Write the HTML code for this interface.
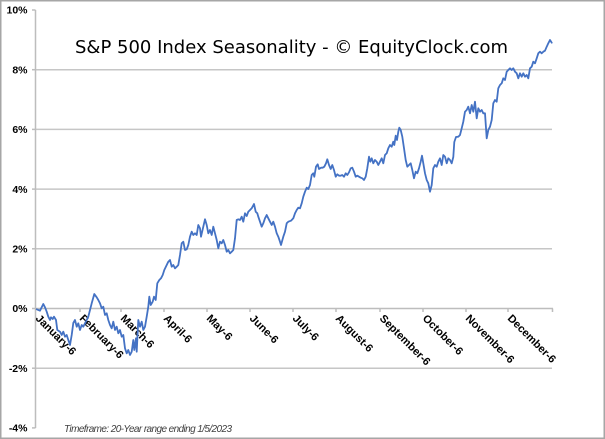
<!DOCTYPE html>
<html>
<head>
<meta charset="utf-8">
<style>
html,body{margin:0;padding:0;background:#fff;}
svg{display:block;}
</style>
</head>
<body>
<svg width="605" height="439" viewBox="0 0 605 439" xmlns="http://www.w3.org/2000/svg">
<rect x="0" y="0" width="605" height="439" fill="#ffffff"/>
<rect x="0.75" y="0.75" width="603.5" height="437.5" fill="none" stroke="#a6a6a6" stroke-width="1.5"/>

<!-- gridlines -->
<g stroke="#c6c6c6" stroke-width="1.5">
<line x1="36" y1="69.7" x2="552" y2="69.7"/>
<line x1="36" y1="129.4" x2="552" y2="129.4"/>
<line x1="36" y1="189.1" x2="552" y2="189.1"/>
<line x1="36" y1="248.8" x2="552" y2="248.8"/>
<line x1="36" y1="368.2" x2="552" y2="368.2"/>
</g>
<!-- axes -->
<g stroke="#bdbdbd" stroke-width="1.5">
<line x1="35.5" y1="10" x2="35.5" y2="428"/>
<line x1="35.5" y1="308.5" x2="553" y2="308.5"/>
<line x1="32" y1="10" x2="35.5" y2="10"/>
<line x1="32" y1="69.7" x2="35.5" y2="69.7"/>
<line x1="32" y1="129.4" x2="35.5" y2="129.4"/>
<line x1="32" y1="189.1" x2="35.5" y2="189.1"/>
<line x1="32" y1="248.8" x2="35.5" y2="248.8"/>
<line x1="32" y1="308.5" x2="35.5" y2="308.5"/>
<line x1="32" y1="368.2" x2="35.5" y2="368.2"/>
<line x1="32" y1="427.9" x2="35.5" y2="427.9"/>
<line x1="80" y1="308.5" x2="80" y2="312"/>
<line x1="121" y1="308.5" x2="121" y2="312"/>
<line x1="164" y1="308.5" x2="164" y2="312"/>
<line x1="207" y1="308.5" x2="207" y2="312"/>
<line x1="250" y1="308.5" x2="250" y2="312"/>
<line x1="293" y1="308.5" x2="293" y2="312"/>
<line x1="336" y1="308.5" x2="336" y2="312"/>
<line x1="380" y1="308.5" x2="380" y2="312"/>
<line x1="423" y1="308.5" x2="423" y2="312"/>
<line x1="466" y1="308.5" x2="466" y2="312"/>
<line x1="508" y1="308.5" x2="508" y2="312"/>
<line x1="552.5" y1="308.5" x2="552.5" y2="312"/>
</g>

<!-- y labels -->
<g font-family="'Liberation Sans', Arial, sans-serif" font-weight="bold" font-size="10.5" fill="#000" text-anchor="end">
<text x="27.5" y="13.7">10%</text>
<text x="27.5" y="73.4">8%</text>
<text x="27.5" y="133.1">6%</text>
<text x="27.5" y="192.8">4%</text>
<text x="27.5" y="252.5">2%</text>
<text x="27.5" y="312.2">0%</text>
<text x="27.5" y="371.9">-2%</text>
<text x="27.5" y="431.6">-4%</text>
</g>

<!-- x labels -->
<g font-family="'Liberation Sans', Arial, sans-serif" font-weight="bold" font-size="11" fill="#000">
<text transform="translate(35,319) rotate(45)">January-6</text>
<text transform="translate(79,319) rotate(45)">February-6</text>
<text transform="translate(120,319) rotate(45)">March-6</text>
<text transform="translate(163,319) rotate(45)">April-6</text>
<text transform="translate(206,319) rotate(45)">May-6</text>
<text transform="translate(249,319) rotate(45)">June-6</text>
<text transform="translate(292,319) rotate(45)">July-6</text>
<text transform="translate(335,319) rotate(45)">August-6</text>
<text transform="translate(379,319) rotate(45)">September-6</text>
<text transform="translate(422,319) rotate(45)">October-6</text>
<text transform="translate(465,319) rotate(45)">November-6</text>
<text transform="translate(507,319) rotate(45)">December-6</text>
</g>

<!-- title -->
<text x="75" y="53" font-family="'DejaVu Sans', Verdana, sans-serif" font-size="18" fill="#000" textLength="433" lengthAdjust="spacingAndGlyphs">S&amp;P 500 Index Seasonality - © EquityClock.com</text>

<!-- timeframe -->
<text x="64" y="432" font-family="'Liberation Sans', Arial, sans-serif" font-style="italic" font-size="10" fill="#404040" textLength="168" lengthAdjust="spacing">Timeframe:  20-Year  range  ending  1/5/2023</text>

<!-- series -->
<polyline fill="none" stroke="#4472c4" stroke-width="1.8" stroke-linejoin="round" stroke-linecap="round" points="
36.7,309.3 40,310.7 43.3,304 45,307.3 46.7,311.7 48.3,316.7 50,320 51,317.3 52.7,319 54,316.7 56,320 57.3,330 60,331.7 61.7,335 63.3,331.7 65,336.7 66.7,335 68.3,340 70,345 71.7,335 73.3,323 75,320 76.7,326.7 78.3,323.3 80,330 81.7,325 83.3,326.7 85,323.3 86.7,320 88.3,316.7 90,310 91.7,303.3 94.3,294 96.7,297.3 98.3,300 100,303.3 101.7,308.3 103.3,306.7 105,315 106.7,313.3 108.3,320 110,325 111.7,328.3 113.3,321.7 115,330 116.7,326.7 118.3,333.3 120,330 121.7,336.7 123.3,335 125,348.3 126.7,353.3 128.3,350 130,355 131.7,351.7 133.3,340 134.3,350 136,338.3 136.7,351.7 138.3,320 140,326.7 141.7,321.7 143.3,330 145,326.7 146.7,316.7 148.3,306.7 149.3,296.7 150.7,305 152.7,301.7 154,296.7 155.7,300 157.3,283.3 159.3,280 161,278.3 162.7,275 164.3,270
168.3,261.7 170,260 171.7,266.7 173.3,265 175,268.3 176.7,266.7 178.3,265 180,255 181.7,243.3 183.3,241.7 185,250 186.7,249.3 188.3,245 190,236.7 191.7,231.7 193.3,235 195,233.3 196.7,235 198.3,225 200,228.3 201,236.7 203.3,226.7 205,219.3 206.7,225 208.3,233.3 210,230 211.7,235 213.3,226.7 215,233.3 216.7,240 218.3,248.3 220,241.7 221.7,243.3 223.3,240 225,245 226.7,251.7 228.3,250 230,253.3 231.7,251.7 233.3,250 235,238.3 236.7,220 238.3,219.3 240,220 241.7,216.7 243.3,221.7 245,213.3 246.7,216 248.3,211.7 250,210 251.7,208.3 254,204 255.7,211.7 257.3,213.3 258.3,216.7 260,221.7 261.7,226.7 263.3,223.3 265,218.3 266.7,215 268.3,218.3 270,221.7 271.7,225 273.3,221.7 275,226.7 276.7,233.3 278.3,236.7 280,241.7 281,245 283.3,236.7 285,231.7 286.7,223.3 288.3,221.7 291,220.7 293.3,218.3 295,213.3 296.7,210 298.3,207.7 300,208.3 301.7,203.3 303.3,196.7 305,191.7
306.7,187.7 308.3,189 310,185 311.7,175 313.3,173.3 314.3,176.7 316,166.7 317.7,164.3 319,169 321,167.7 322.7,167.7 324.3,166.7 326,163.3 327.3,159.3 329,165 330.7,169 332.3,165 334,170 335.7,176.7 337.3,174.3 339,175.7 340.7,175.7 342.3,175 344,176.7 345.7,173.3 347.3,175 349,172.3 350.7,168.3 352.3,167.7 354,171.7 355.7,176.7 357.3,175.7 359,176.7 360.7,177.7 362.3,178.3 364,180 365.7,176.7 367.3,168.3 369,156.7 370.3,161.7 371.7,158.3 373.3,163.3 375,160 376.7,161.7 378.3,165 380,161.7 381.7,158.3 383.3,163.3 385,155 386.7,153.3 388.3,148.3 390,145 391.7,146.7 393.3,141.7 394.3,145 395.7,135.7 397,140 398.3,131.7 399.3,127.7 400.7,130 402.3,136.7 404,148.3 405.7,160 407.3,166.7 409,165 410.7,163.3 412.3,170 414,178.3 415.7,171.7 417.3,173.3 419,168.3 420.7,161.7 422,155.7 423.3,163.3 425,173.3 426.7,180 428.3,183.3 430,191.7 431.7,185 433.3,168.3 435,165
436.7,166.7 438.3,161.7 440,158.3 441.7,165 443.3,155 445,156.7 446.7,163.3 448.3,158.3 450,160 451.7,163.3 453.3,157 454.3,142 456,137 458.3,136.7 460,135 461.7,128.3 463.3,121.7 465,111.7 466.7,110 468.3,106.7 470,113.3 471.7,105 473.3,111.7 475,101.7 476.7,118.3 478.3,108.3 480,111.7 481.7,110 483.3,113.3 485,113.3 486.7,138.3 488.3,130 490,126.7 491.7,120 493.3,103.3 495,100 496.7,101.7 498.3,88.3 500,85 501.7,83.3 503.3,78.3 505,80 506.7,71.7 508.3,70 510,68.3 511.7,70 513.3,68.3 515,71.7 516.7,73.3 518.3,78.3 520,73.3 521.7,76.7 523.3,73.3 525,76.7 526.7,75 528.3,78.3 530,68.3 531.7,66.7 533.3,61.7 535,63.3 536.7,58.3 538.3,53.3 540,51.7 541.7,53.3 543.3,51.7 545,50.7 546.7,46.7 548.3,43.3 550,40 551.7,42.7"/>
</svg>
</body>
</html>
